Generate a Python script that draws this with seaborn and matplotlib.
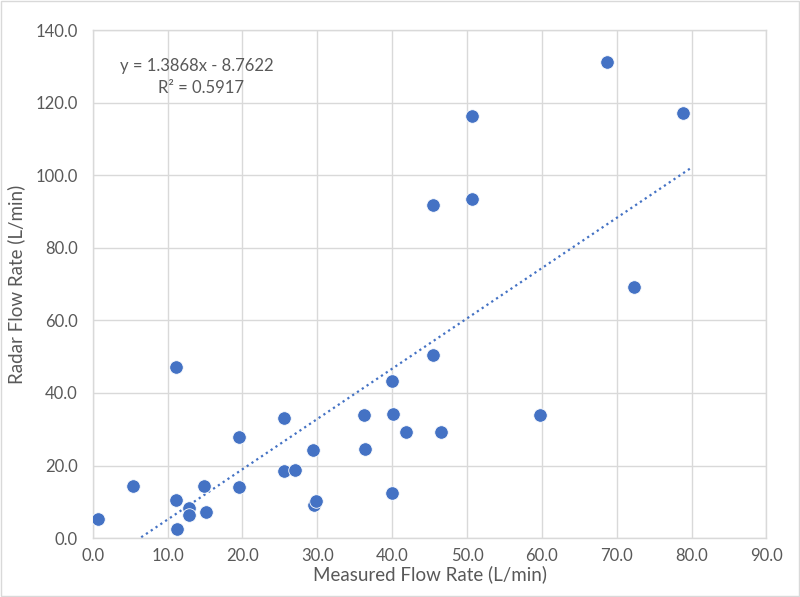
import numpy as np
import pandas as pd
import matplotlib
matplotlib.use('Agg')
import matplotlib.pyplot as plt
import seaborn as sns
from matplotlib.ticker import FormatStrFormatter, MultipleLocator

sns.set_style('white')
plt.rcParams['font.family'] = ['Lato', 'DejaVu Sans']

# Measured vs radar flow rate (L/min)
measured = [0.7, 5.4, 11.1, 11.1, 11.3, 12.9, 12.9, 14.9, 15.1, 19.6, 19.6,
            25.6, 25.6, 27.0, 29.4, 29.6, 29.8, 36.2, 36.4, 40.0, 40.1, 40.0,
            41.8, 46.5, 45.4, 45.4, 50.6, 50.7, 59.7, 68.7, 72.3, 78.9]
radar = [5.2, 14.3, 47.2, 10.5, 2.5, 8.3, 6.3, 14.3, 7.2, 27.9, 14.1,
         33.1, 18.5, 18.8, 24.3, 9.1, 10.2, 33.9, 24.5, 43.3, 34.2, 12.4,
         29.2, 29.2, 50.5, 91.8, 93.5, 116.4, 34.0, 131.3, 69.1, 117.2]

# linear trendline as reported on the chart
slope = 1.3868
intercept = -8.7622
r_squared = 0.5917
trend_end = 80.0

blue = '#4472C4'
grid_col = '#D9D9D9'
text_col = '#595959'

df = pd.DataFrame({'measured': measured, 'radar': radar})

fig = plt.figure(figsize=(8.0, 5.97), dpi=100)
ax = fig.add_axes([0.116, 0.0988, 0.842, 0.8502])

sns.scatterplot(data=df, x='measured', y='radar', ax=ax, color=blue,
                s=95, edgecolor='white', linewidth=0.6, zorder=3)

xs = np.array([min(measured), trend_end])
ax.plot(xs, slope * xs + intercept, color=blue, linestyle=(0, (1, 1.6)),
        linewidth=1.6, zorder=2)

ax.set_xlim(0, 90)
ax.set_ylim(0, 140)
ax.xaxis.set_major_locator(MultipleLocator(10))
ax.yaxis.set_major_locator(MultipleLocator(20))
ax.xaxis.set_major_formatter(FormatStrFormatter('%.1f'))
ax.yaxis.set_major_formatter(FormatStrFormatter('%.1f'))
ax.grid(True, color=grid_col, linewidth=1.0)
ax.set_axisbelow(True)
for sp in ax.spines.values():
    sp.set_color(grid_col)
    sp.set_linewidth(1.0)
ax.tick_params(length=0, labelsize=12, colors=text_col, pad=7)
ax.tick_params(axis='y', pad=11)

ax.set_xlabel('Measured Flow Rate (L/min)', fontsize=13.5, color=text_col, labelpad=1)
ax.set_ylabel('Radar Flow Rate (L/min)', fontsize=13.5, color=text_col, labelpad=7)

ax.text(0.155, 0.93, 'y = {:.4f}x - {:.4f}'.format(slope, -intercept),
        transform=ax.transAxes, ha='center', va='center', fontsize=12, color=text_col)
ax.text(0.16, 0.886, 'R² = {:.4f}'.format(r_squared),
        transform=ax.transAxes, ha='center', va='center', fontsize=12, color=text_col)

# light chart border like the original
fig.patches.append(plt.Rectangle((0.001, 0.001), 0.998, 0.998, transform=fig.transFigure,
                                 fill=False, edgecolor=grid_col, linewidth=1.0))

fig.savefig('out.png', dpi=100)
